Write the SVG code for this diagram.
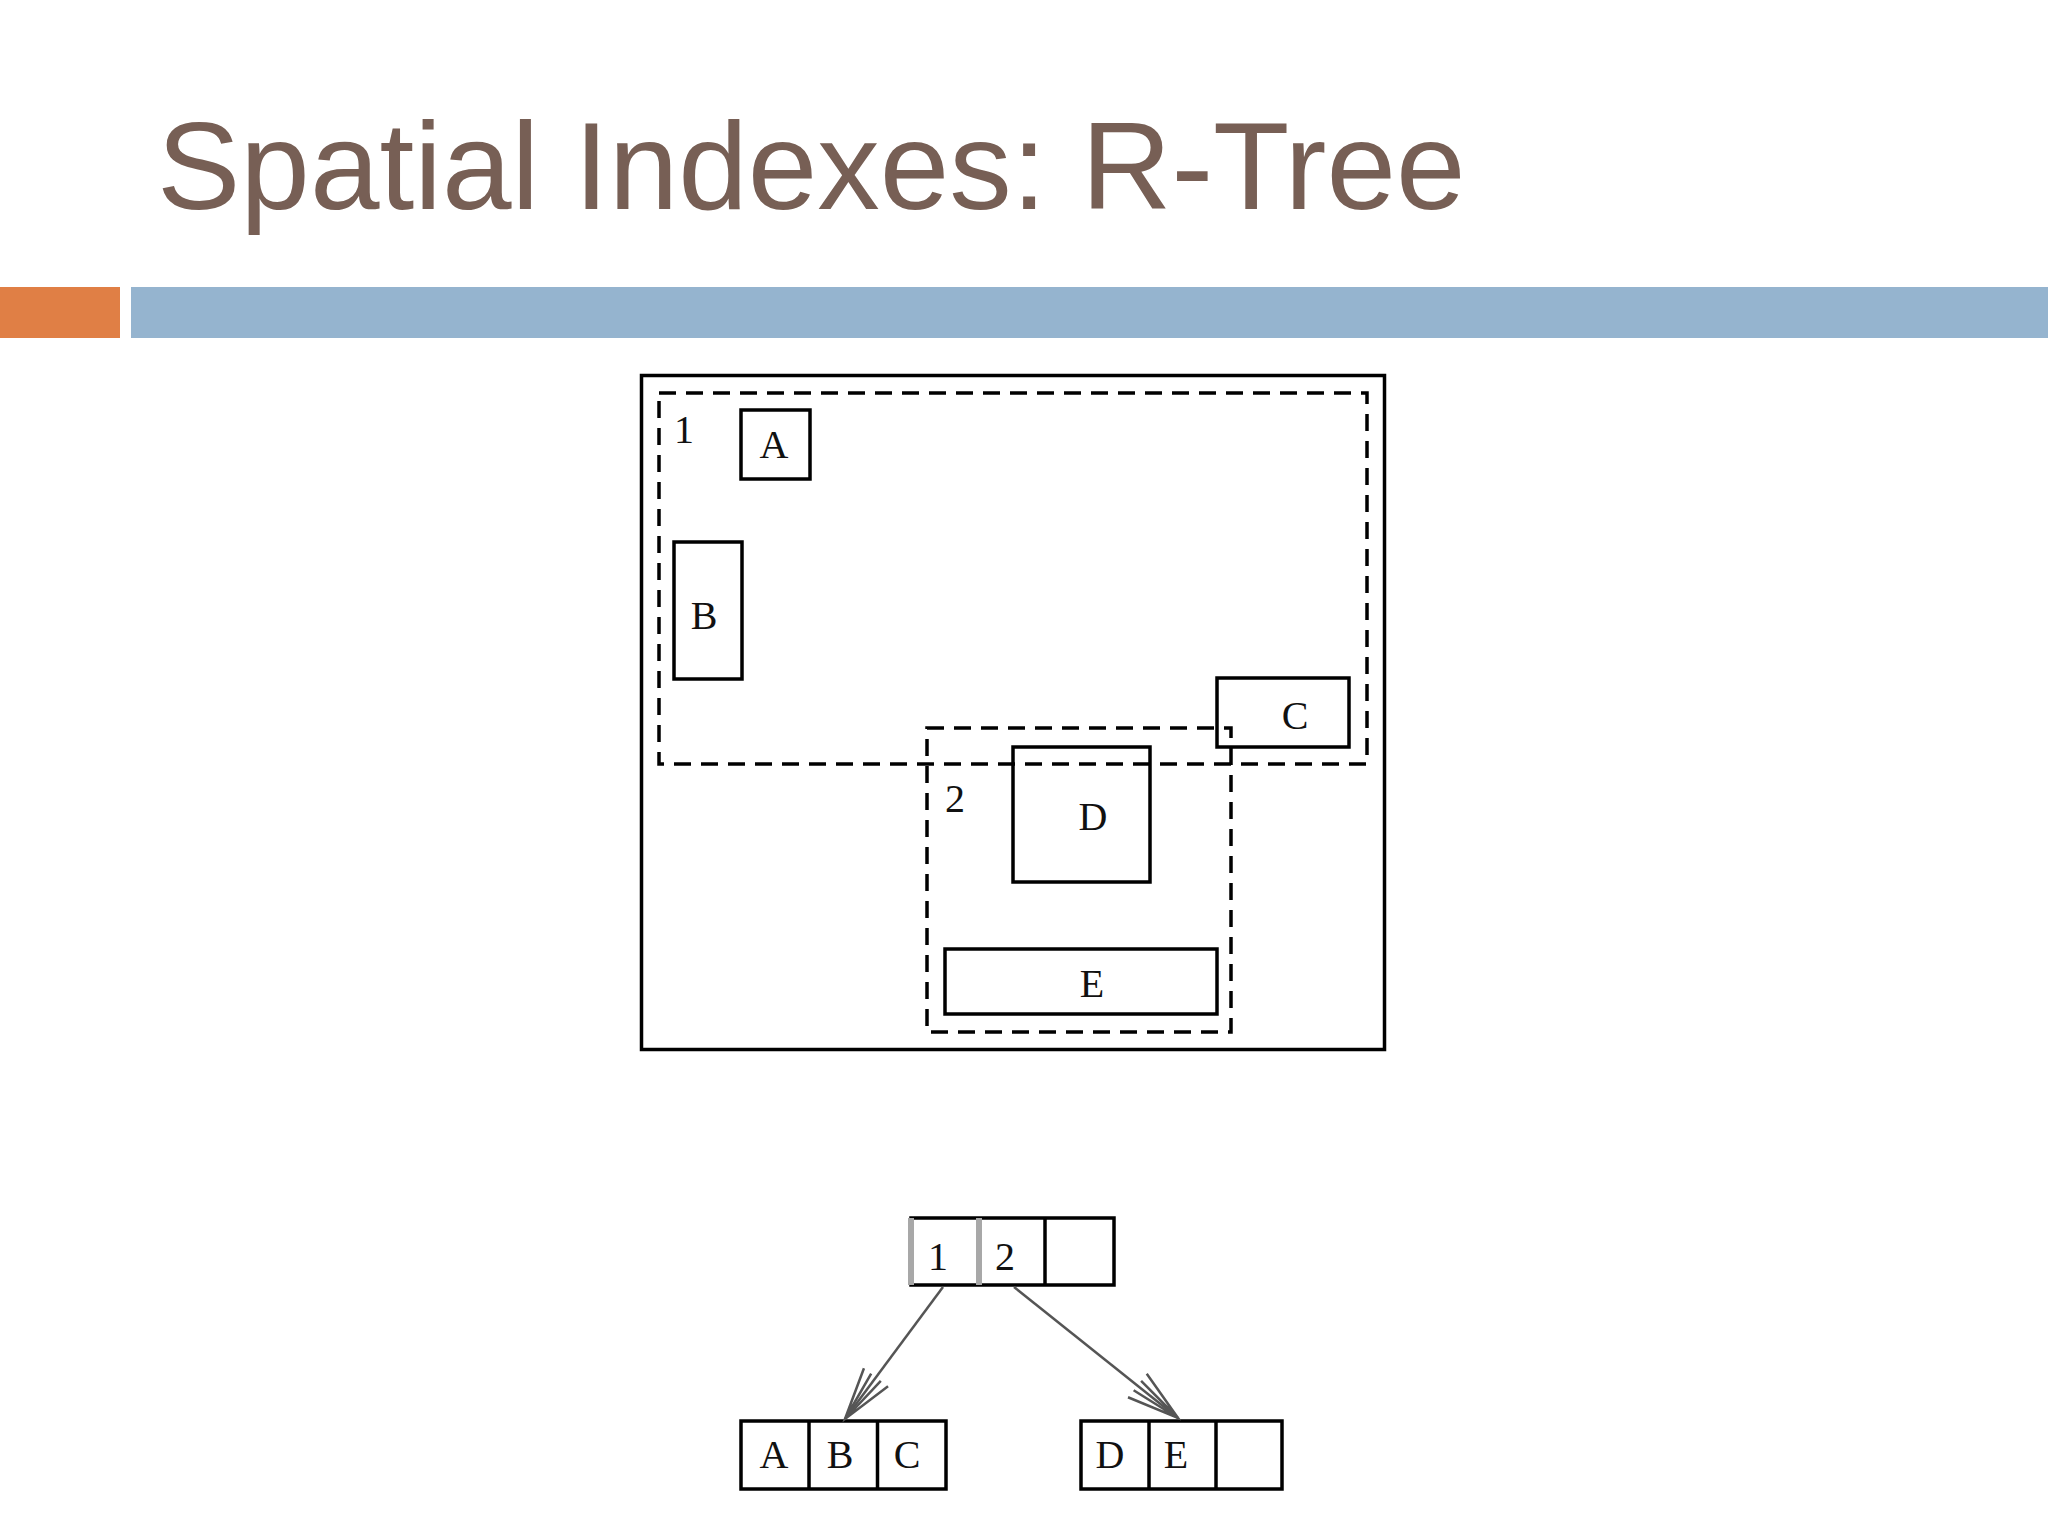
<svg xmlns="http://www.w3.org/2000/svg" width="2048" height="1536" viewBox="0 0 2048 1536">
  <style>
    .title { font-family: "Liberation Sans", Arial, sans-serif; font-size: 125px; fill: #775F55; }
    .box { fill: none; stroke: #000; stroke-width: 3.5; }
    .mbr { fill: none; stroke: #000; stroke-width: 3.5; stroke-dasharray: 17 10; }
    .lbl { font-family: "Liberation Serif", "Times New Roman", serif; font-size: 40px; fill: #111; text-anchor: middle; }
    .cell { fill: none; stroke: #000; stroke-width: 3.5; }
    .gray { stroke: #A8A8A8; stroke-width: 6; }
    .edge { fill: none; stroke: #555; stroke-width: 2.5; }
  </style>
  <defs>
    <marker id="openArrow" markerUnits="userSpaceOnUse" markerWidth="60" markerHeight="40" viewBox="-56 -20 60 40" refX="0" refY="0" orient="auto">
      <path d="M -52 -15 L 0 0 L -52 15 M -52 -6 L 0 0 L -52 6" fill="none" stroke="#555" stroke-width="2.5"/>
    </marker>
  </defs>
  <rect width="2048" height="1536" fill="#FFFFFF"/>

  <g id="header">
    <text class="title" x="157" y="209">Spatial Indexes: R-Tree</text>
    <rect x="0" y="287" width="120" height="51" fill="#E07F45"/>
    <rect x="131" y="287" width="1917" height="51" fill="#95B4CF"/>
  </g>

  <g id="space">
    <rect class="box" x="641.5" y="375.5" width="743" height="674"/>
  </g>
  <g id="mbr1">
    <rect class="mbr" x="659" y="393" width="708" height="371"/>
    <text class="lbl" x="684" y="443">1</text>
  </g>
  <g id="mbr2">
    <rect class="mbr" x="927" y="728" width="304" height="304"/>
    <text class="lbl" x="955" y="812">2</text>
  </g>
  <g id="rectA">
    <rect class="box" x="741" y="410" width="69" height="69"/>
    <text class="lbl" x="774" y="458">A</text>
  </g>
  <g id="rectB">
    <rect class="box" x="674" y="542" width="68" height="137"/>
    <text class="lbl" x="704" y="629">B</text>
  </g>
  <g id="rectC">
    <rect class="box" x="1217" y="678" width="132" height="69"/>
    <text class="lbl" x="1295" y="729">C</text>
  </g>
  <g id="rectD">
    <rect class="box" x="1013" y="747" width="137" height="135"/>
    <text class="lbl" x="1093" y="830">D</text>
  </g>
  <g id="rectE">
    <rect class="box" x="945" y="949" width="272" height="65"/>
    <text class="lbl" x="1092" y="997">E</text>
  </g>

  <g id="root">
    <rect class="cell" x="911" y="1218" width="203" height="67"/>
    <line class="gray" x1="911" y1="1218" x2="911" y2="1285"/>
    <line class="gray" x1="979" y1="1218" x2="979" y2="1285"/>
    <line class="cell" x1="1045" y1="1218" x2="1045" y2="1285"/>
    <text class="lbl" x="938" y="1270">1</text>
    <text class="lbl" x="1005" y="1270">2</text>
  </g>
  <g id="leaf1">
    <rect class="cell" x="741" y="1421" width="205" height="68"/>
    <line class="cell" x1="809" y1="1421" x2="809" y2="1489"/>
    <line class="cell" x1="877.5" y1="1421" x2="877.5" y2="1489"/>
    <text class="lbl" x="774" y="1468">A</text>
    <text class="lbl" x="840" y="1468">B</text>
    <text class="lbl" x="907" y="1468">C</text>
  </g>
  <g id="leaf2">
    <rect class="cell" x="1081" y="1421" width="201" height="68"/>
    <line class="cell" x1="1149" y1="1421" x2="1149" y2="1489"/>
    <line class="cell" x1="1216" y1="1421" x2="1216" y2="1489"/>
    <text class="lbl" x="1110" y="1468">D</text>
    <text class="lbl" x="1176" y="1468">E</text>
  </g>

  <g id="connectors">
    <line class="edge" x1="943" y1="1287" x2="845" y2="1419" marker-end="url(#openArrow)"/>
    <line class="edge" x1="1014" y1="1287" x2="1178" y2="1418" marker-end="url(#openArrow)"/>
  </g>
</svg>
